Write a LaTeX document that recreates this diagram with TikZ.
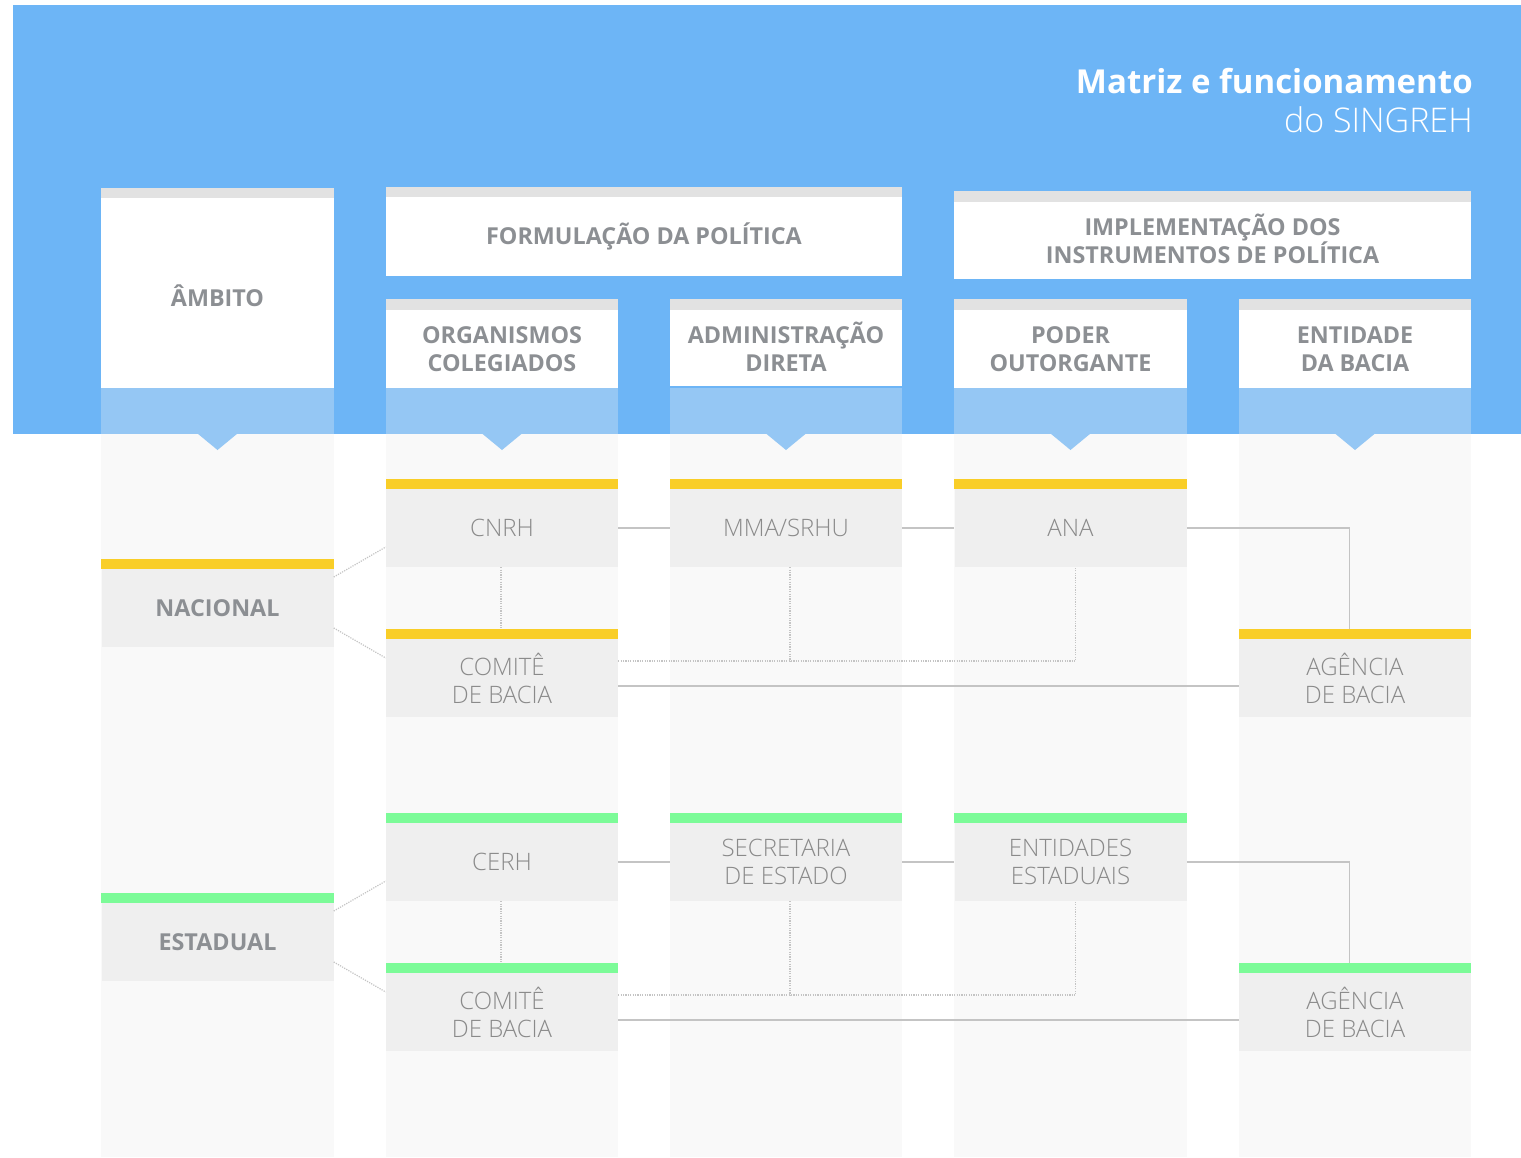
\documentclass[tikz,border=0pt]{standalone}
\usepackage{fontspec}
\setmainfont{Open Sans}
\newfontfamily\oslight{Open Sans Light}
\usetikzlibrary{calc}
\definecolor{bandblue}{RGB}{109,181,246}
\definecolor{lightblue}{RGB}{149,199,244}
\definecolor{hstrip}{RGB}{226,226,226}
\definecolor{stripe}{RGB}{249,249,249}
\definecolor{boxgray}{RGB}{239,239,239}
\definecolor{barY}{RGB}{249,206,40}
\definecolor{barG}{RGB}{124,251,152}
\definecolor{hdrtext}{RGB}{140,143,147}
\definecolor{bodytext}{RGB}{138,138,138}
\definecolor{linegray}{RGB}{196,196,196}
\tikzset{
  hdrbox/.style={fill=white, inner sep=0pt, align=center, text=hdrtext,
     font=\bfseries\fontsize{17.5}{21}\selectfont},
  hdrtxt/.style={inner sep=0pt, align=center, text=hdrtext,
     font=\bfseries\fontsize{17.5}{21}\selectfont},
  bodybox/.style={fill=boxgray, inner sep=0pt, align=center, text=bodytext,
     minimum width=174pt, minimum height=58.5pt,
     font=\oslight\fontsize{18}{21}\selectfont},
  lvlbox/.style={bodybox, text=hdrtext, font=\bfseries\fontsize{17.5}{21}\selectfont},
  conn/.style={draw=linegray, line width=0.9pt},
  dotc/.style={draw=linegray, line width=0.9pt, dash pattern=on 0.9pt off 0.9pt},
}
\begin{document}
\begin{tikzpicture}[x=0.75pt,y=-0.75pt]
\useasboundingbox (0,0) rectangle (1521,1157);
\fill[white] (0,0) rectangle (1521,1157);
% blue band
\fill[bandblue] (13,5) rectangle (1521,434);
% column stripes, light blue feet and notches
\foreach \a/\b in {101/334,386/618,670/902,954/1187,1239/1471}{
  \fill[stripe] (\a,434) rectangle (\b,1157);
  \fill[lightblue] (\a,388) rectangle (\b,434);
  \fill[lightblue] ({(\a+\b)/2-20},433.5) -- ({(\a+\b)/2+20},433.5) -- ({(\a+\b)/2},450) -- cycle;
}
% title
\node[anchor=base east, text=white, inner sep=0pt, font=\bfseries\fontsize{24.75}{28}\selectfont] (title1) at (1473,93) {Matriz e funcionamento};
\node[anchor=base east, text=white, inner sep=0pt, font=\oslight\fontsize{25.5}{28}\selectfont] (title2) at (1473,132) {do SINGREH};
% header boxes
\node[hdrbox, minimum width=174.75pt, minimum height=142.5pt] (ambito) at (217.5,293) {};
\node[hdrtxt] (ambitotxt) at (217.5,296) {ÂMBITO};
\node[hdrbox, minimum width=387pt, minimum height=59.25pt] (formul) at (644,236.5) {FORMULAÇÃO DA POLÍTICA};
\node[hdrbox, minimum width=387.75pt, minimum height=57.75pt] (implem) at (1212.5,240.5) {};
\node[hdrtxt] (implemtxt) at (1212.5,238.5) {IMPLEMENTAÇÃO DOS\\INSTRUMENTOS DE POLÍTICA};
\node[hdrbox, minimum width=174pt, minimum height=58.5pt] (orgcol) at (502,349) {ORGANISMOS\\COLEGIADOS};
\node[hdrbox, minimum width=174pt, minimum height=58.5pt] (admdir) at (786,347) {ADMINISTRAÇÃO\\DIRETA};
\node[hdrbox, minimum width=174.75pt, minimum height=58.5pt] (poder) at (1070.5,349) {PODER\\OUTORGANTE};
\node[hdrbox, minimum width=174pt, minimum height=58.5pt] (entid) at (1355,349) {ENTIDADE\\DA BACIA};
\fill[hstrip] (101,188) rectangle (334,198);
\fill[hstrip] (386,187) rectangle (902,197);
\fill[hstrip] (954,191) rectangle (1471,202);
\foreach \a/\b in {386/618,670/902,954/1187,1239/1471}
  \fill[hstrip] (\a,299) rectangle (\b,310);
% body boxes - national
\node[lvlbox] (nac) at (217.5,608) {NACIONAL};
\node[bodybox] (cnrh) at (502,528) {CNRH};
\node[bodybox] (mma) at (786,528) {MMA/SRHU};
\node[bodybox] (ana) at (1070.5,528) {ANA};
\node[bodybox] (cbn) at (502,678) {COMITÊ\\DE BACIA};
\node[bodybox] (agn) at (1355,678) {AGÊNCIA\\DE BACIA};
% body boxes - state
\node[lvlbox] (est) at (217.5,942) {ESTADUAL};
\node[bodybox] (cerh) at (502,862) {CERH};
\node[bodybox] (sec) at (786,862) {SECRETARIA\\DE ESTADO};
\node[bodybox] (ent) at (1070.5,862) {ENTIDADES\\ESTADUAIS};
\node[bodybox] (cbe) at (502,1012) {COMITÊ\\DE BACIA};
\node[bodybox] (age) at (1355,1012) {AGÊNCIA\\DE BACIA};
% helper coordinates
\coordinate (anab) at ([xshift=4pt]ana.south);
\coordinate (mmab) at ([xshift=3pt]mma.south);
\coordinate (entb) at ([xshift=4pt]ent.south);
\coordinate (secb) at ([xshift=3pt]sec.south);
\coordinate (dn) at ([yshift=12.75pt]cbn.east);
\coordinate (ds) at ([yshift=12.75pt]cbe.east);
% connectors national
\draw[conn] (cnrh.east) -- (mma.west);
\draw[conn] (mma.east) -- (ana.west);
\draw[conn] (ana.east) -| ([xshift=-4pt,yshift=7.5pt]agn.north);
\draw[conn] ([yshift=-6pt]cbn.east) -- ([yshift=-6pt]agn.west);
\draw[dotc] (dn) -- (dn -| anab) -- (anab);
\draw[dotc] (mmab) -- (mmab |- dn);
\draw[dotc] ([xshift=-0.75pt]cnrh.south) -- ([xshift=-0.75pt,yshift=7.5pt]cbn.north);
\draw[dotc] ([yshift=23.25pt]nac.east) -- ([yshift=-14.25pt]cnrh.west);
\draw[dotc] ([yshift=-15pt]nac.east) -- ([yshift=15pt]cbn.west);
% connectors state
\draw[conn] (cerh.east) -- (sec.west);
\draw[conn] (sec.east) -- (ent.west);
\draw[conn] (ent.east) -| ([xshift=-4pt,yshift=7.5pt]age.north);
\draw[conn] ([yshift=-6pt]cbe.east) -- ([yshift=-6pt]age.west);
\draw[dotc] (ds) -- (ds -| entb) -- (entb);
\draw[dotc] (secb) -- (secb |- ds);
\draw[dotc] ([xshift=-0.75pt]cerh.south) -- ([xshift=-0.75pt,yshift=7.5pt]cbe.north);
\draw[dotc] ([yshift=23.25pt]est.east) -- ([yshift=-14.25pt]cerh.west);
\draw[dotc] ([yshift=-15pt]est.east) -- ([yshift=15pt]cbe.west);
% colour bars
\foreach \n in {nac,cnrh,mma,ana,cbn,agn}
  \fill[barY] (\n.north west) rectangle ([yshift=7.5pt]\n.north east);
\foreach \n in {est,cerh,sec,ent,cbe,age}
  \fill[barG] (\n.north west) rectangle ([yshift=7.5pt]\n.north east);
\end{tikzpicture}
\end{document}
